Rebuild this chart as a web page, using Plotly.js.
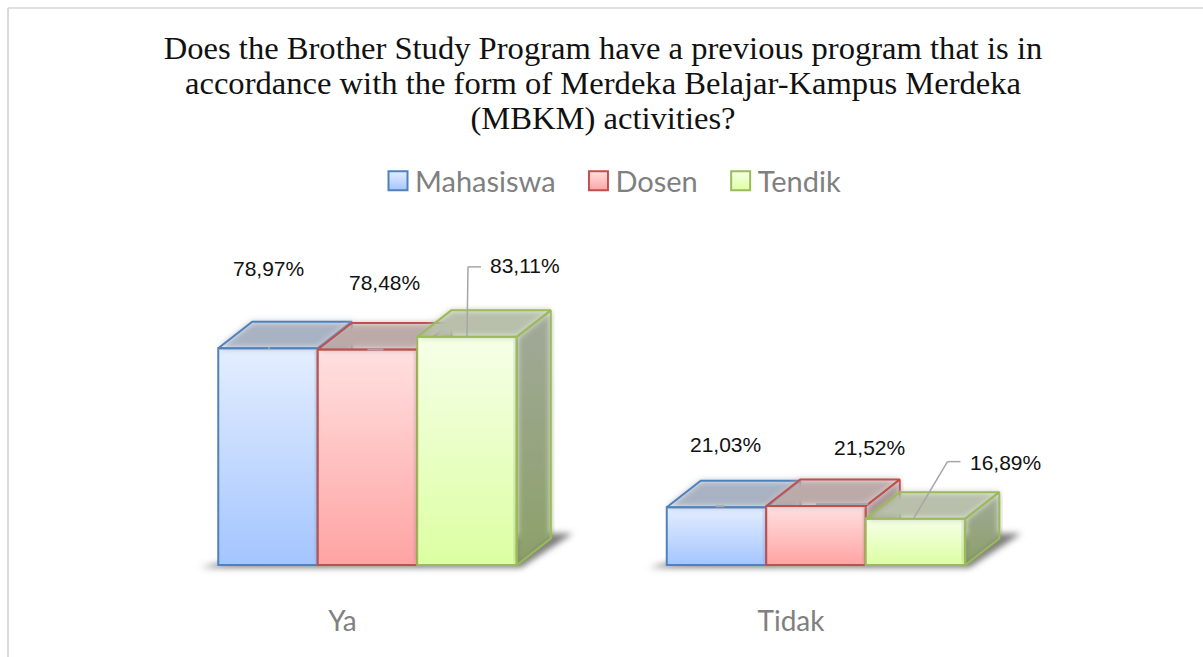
<!DOCTYPE html>
<html><head><meta charset="utf-8">
<script src="https://cdn.plot.ly/plotly-3.0.1.min.js"></script>
<style>html,body{margin:0;padding:0;background:#fff}</style></head>
<body><div id="chart" style="width:1203px;height:657px"></div>
<script>
var categories = ['Ya', 'Tidak'];
var seriesNames = ['Mahasiswa', 'Dosen', 'Tendik'];
var mahasiswa = [78.97, 21.03];
var dosen = [78.48, 21.52];
var tendik = [83.11, 16.89];
var valueLabels = [['78,97%', '21,03%'], ['78,48%', '21,52%'], ['83,11%', '16,89%']];

var seriesValues = [mahasiswa, dosen, tendik];
var legendPad = ['\u00A0\u00A0', '\u00A0\u00A0', ''];
var W = 1203, H = 657;
var pxPerCat = 448.5, pxPerUnit = 2.745, x0Px = 367.5, basePx = 565;
var plotTop = 230, plotBottom = 580;
var barW = 99.5 / pxPerCat, dx = 34 / pxPerCat, dy = 26.5 / pxPerUnit;
var xr = [(0 - x0Px) / pxPerCat, (W - x0Px) / pxPerCat];
var yr = [(basePx - plotBottom) / pxPerUnit, (basePx - plotTop) / pxPerUnit];
var edge = ['#4f81bd', '#c0504d', '#9bbb59'];
var grad = [['#e4eeff', '#a4c5ff'], ['#ffe0e0', '#ffa3a3'], ['#f6ffe8', '#dcffa2']];
var topFace = ['#a9b2c2', '#bcaaa9', '#b8c0ac'];
var sideFace = [['#a2a9b6', '#7f94b3'], ['#a99a99', '#a08080'], ['#a2a99a', '#8ca168']];
var labelOx = [[0, 8.5], [17, 53], [57.5, 90]];
var labelOy = [[80, 63], [67, 58], [71, 56]];
var leaderPath = [[null, null], [null, null],
  [[[0, 0], [1, 70], [14, 70]], [[-2, 0], [32, 57], [45, 57]]]];
var stubSpec = [[[0, 2, 0], [-1, 8, 1]], [[0, 16, 0], [0, 52, 2]]];

function bx(c, i) { return c + (i - 1.5) * barW; }
function py(p) { return (plotBottom - p) / (plotBottom - plotTop); }
var traces = [];
// floor shadows on the base subplot
categories.forEach(function (_, c) {
  var l = bx(c, 0), r = bx(c, 3);
  traces.push({
    x: [l - 18 / pxPerCat, r + 4 / pxPerCat, r + dx + 22 / pxPerCat, r + dx, l + 6 / pxPerCat, l - 18 / pxPerCat],
    y: [-2.5 / pxPerUnit, -2.5 / pxPerUnit, dy + 5 / pxPerUnit, dy + 5 / pxPerUnit, 3 / pxPerUnit, -2.5 / pxPerUnit],
    mode: 'lines', fill: 'toself', fillcolor: '#7a7a7a', line: { width: 0 },
    hoverinfo: 'skip', showlegend: false, xaxis: 'x', yaxis: 'y'
  });
});
seriesNames.forEach(function (name, i) {
  var ax = 'x' + (i + 2), ay = 'y' + (i + 2);
  traces.push({
    type: 'bar', name: name + legendPad[i], x: categories.map(function (_, c) { return c; }), y: seriesValues[i],
    width: barW, offset: (i - 1.5) * barW, xaxis: ax, yaxis: ay,
    marker: { color: grad[i][1], line: { color: edge[i], width: 2 } },
    hoverinfo: 'y', showlegend: true
  });
  categories.forEach(function (_, c) {
    var l = bx(c, i), r = l + barW, v = seriesValues[i][c];
    traces.push({
      x: [r, r, r + dx, r + dx, r], y: [0, v, v + dy, dy, 0], mode: 'lines', fill: 'toself',
      fillgradient: { type: 'vertical', colorscale: [[0, sideFace[i][1]], [1, sideFace[i][0]]] },
      line: { color: edge[i], width: 2 }, hoverinfo: 'skip', showlegend: false, xaxis: ax, yaxis: ay
    });
    traces.push({
      x: [l, r, r + dx, l + dx, l], y: [v, v, v + dy, v + dy, v], mode: 'lines', fill: 'toself',
      fillcolor: topFace[i], line: { color: edge[i], width: 2 },
      hoverinfo: 'skip', showlegend: false, xaxis: ax, yaxis: ay
    });
  });
});
var annotations = [], shapes = [];
seriesNames.forEach(function (_, i) {
  categories.forEach(function (_, c) {
    var cx = bx(c, i) + barW / 2, v = seriesValues[i][c];
    annotations.push({
      xref: 'x', yref: 'y', x: cx + labelOx[i][c] / pxPerCat, y: v + labelOy[i][c] / pxPerUnit,
      text: valueLabels[i][c], showarrow: false,
      font: { family: '"Liberation Sans", Arial, sans-serif', size: 21, color: '#111111' }
    });
    var lp = leaderPath[i][c];
    if (lp) {
      for (var k = 0; k < lp.length - 1; k++) shapes.push({
        type: 'line', xref: 'x', yref: 'y',
        x0: cx + lp[k][0] / pxPerCat, y0: v + lp[k][1] / pxPerUnit,
        x1: cx + lp[k + 1][0] / pxPerCat, y1: v + lp[k + 1][1] / pxPerUnit,
        line: { color: '#a6a6a6', width: 1.5 }
      });
    }
  });
});
[0, 1].forEach(function (i) {
  categories.forEach(function (_, c) {
    var s = stubSpec[i][c], cx = bx(c, i) + barW / 2, v = seriesValues[i][c];
    shapes.push({
      type: 'line', xref: 'x', yref: 'y',
      x0: cx + s[0] / pxPerCat, x1: cx + s[1] / pxPerCat,
      y0: v + s[2] / pxPerUnit, y1: v + s[2] / pxPerUnit,
      line: { color: '#a6a6a6', width: 2 }
    });
  });
});
// chart-area border: only the top and left edges are visible in the reference
shapes.push({ type: 'line', xref: 'paper', yref: 'paper', x0: 8 / W, x1: 1, y0: py(8), y1: py(8), line: { color: '#e0e0e0', width: 2 } });
shapes.push({ type: 'line', xref: 'paper', yref: 'paper', x0: 8 / W, x1: 8 / W, y0: py(8), y1: py(H), line: { color: '#d9d9d9', width: 2 } });

var hidden = { visible: false, range: xr, fixedrange: true };
var hiddenY = { visible: false, range: yr, fixedrange: true };
function ov(base, a) { return Object.assign({}, base, { overlaying: a, anchor: a === 'x' ? 'y' : 'x' }); }
var layout = {
  width: W, height: H, autosize: false, showlegend: true,
  margin: { l: 0, r: 0, t: plotTop, b: H - plotBottom, pad: 0 },
  paper_bgcolor: '#ffffff', plot_bgcolor: 'rgba(0,0,0,0)', barmode: 'overlay',
  title: {
    text: 'Does the Brother Study Program have a previous program that is in<br>accordance with the form of Merdeka Belajar-Kampus Merdeka<br>(MBKM) activities?',
    x: 603 / W, xanchor: 'center', xref: 'container', y: 1 - 59 / H, yanchor: 'middle', yref: 'container',
    font: { family: '"Liberation Serif", "Times New Roman", serif', size: 32.6, color: '#111111' }
  },
  xaxis: {
    range: xr, tickmode: 'array', tickvals: categories.map(function (_, c) { return c; }), ticktext: categories,
    showgrid: false, zeroline: false, showline: false, ticks: '', fixedrange: true,
    ticklabelshift: -25, ticklabelstandoff: 22,
    tickfont: { family: 'Lato, sans-serif', size: 28, color: '#808080' }
  },
  yaxis: { visible: false, range: yr, fixedrange: true },
  xaxis2: ov(hidden, 'x'), yaxis2: ov(hiddenY, 'y'),
  xaxis3: ov(hidden, 'x'), yaxis3: ov(hiddenY, 'y'),
  xaxis4: ov(hidden, 'x'), yaxis4: ov(hiddenY, 'y'),
  legend: {
    x: 375 / W, y: py(181), xanchor: 'left', yanchor: 'middle', orientation: 'h', traceorder: 'normal',
    bgcolor: 'rgba(0,0,0,0)', borderwidth: 0,
    font: { family: 'Lato, sans-serif', size: 29, color: '#7f7f7f' }
  },
  annotations: annotations, shapes: shapes
};
var swatchPath = 'M12.5,9.5H-6.5V-9.5H12.5Z';
function finish(gd) {
  var defs = gd.querySelector('.main-svg defs');
  var NS = 'http://www.w3.org/2000/svg';
  grad.forEach(function (g, i) {
    var lg = document.createElementNS(NS, 'linearGradient');
    lg.setAttribute('id', 'barGrad' + i);
    lg.setAttribute('x1', '0'); lg.setAttribute('y1', '0'); lg.setAttribute('x2', '0'); lg.setAttribute('y2', '1');
    g.forEach(function (col, k) {
      var st = document.createElementNS(NS, 'stop');
      st.setAttribute('offset', String(k)); st.setAttribute('stop-color', col);
      lg.appendChild(st);
    });
    defs.appendChild(lg);
  });
  var f = document.createElementNS(NS, 'filter');
  f.setAttribute('id', 'floorBlur');
  f.setAttribute('x', '-10%'); f.setAttribute('y', '-30%'); f.setAttribute('width', '120%'); f.setAttribute('height', '160%');
  var b = document.createElementNS(NS, 'feGaussianBlur');
  b.setAttribute('stdDeviation', '3');
  f.appendChild(b); defs.appendChild(f);

  gd.querySelectorAll('.xy .scatterlayer .js-fill').forEach(function (p) { p.style.filter = 'url(#floorBlur)'; });
  ['x2y2', 'x3y3', 'x4y4'].forEach(function (sp, i) {
    gd.querySelectorAll('.' + sp + ' .barlayer .point path').forEach(function (p) { p.style.fill = 'url(#barGrad' + i + ')'; });
  });
  // title lines sit closer than Plotly's default line height
  gd.querySelectorAll('.gtitle .line').forEach(function (t, k) { t.setAttribute('dy', (k * 35) + 'px'); });
  gd.querySelectorAll('.legendtext').forEach(function (tx) {
    var i = seriesNames.indexOf(tx.textContent.replace(/\u00A0/g, '').trim());
    if (i < 0) return;
    tx.parentNode.querySelectorAll('.legendpoints path').forEach(function (p) {
      if (!p.getAttribute('d')) return;
      p.setAttribute('d', swatchPath);
      p.style.fill = 'url(#barGrad' + i + ')';
      p.style.strokeWidth = '2px';
    });
  });
}
Plotly.newPlot('chart', traces, layout, { displayModeBar: false, staticPlot: true }).then(finish);
</script></body></html>
